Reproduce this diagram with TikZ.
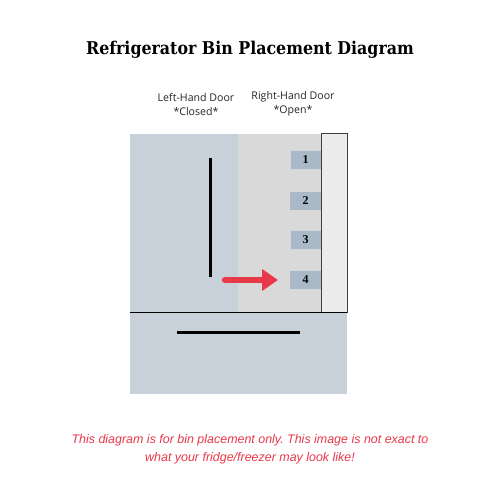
\documentclass[tikz,border=0pt]{standalone}
\usepackage{fontspec}
\setmainfont{Open Sans}
\newfontfamily\titlefont{DejaVu Serif Condensed}
\newfontfamily\binfont{Liberation Serif}
\newfontfamily\notefont{Liberation Sans}
\definecolor{doorblue}{HTML}{C8D0D9}
\definecolor{opengray}{HTML}{D9D9D9}
\definecolor{edgegray}{HTML}{ECECEC}
\definecolor{binblue}{HTML}{A9B9C7}
\definecolor{warnred}{HTML}{E8394A}
\usetikzlibrary{arrows.meta}
\frenchspacing
\begin{document}
\begin{tikzpicture}[x=1pt,y=-1pt,
  binbox/.style={fill=binblue,draw=none,minimum width=30pt,minimum height=18pt,inner sep=0pt,font=\binfont\bfseries\fontsize{12}{12}\selectfont},
  doorlabel/.style={align=center,font=\fontsize{10.6}{14}\selectfont,text=black!85},
  handle/.style={line width=3pt}]
\useasboundingbox (0,0) rectangle (500,500);
\fill[white] (0,0) rectangle (500,500);
% title
\node[font=\titlefont\bfseries\fontsize{17.6}{20}\selectfont] (title) at (250,50) {Refrigerator Bin Placement Diagram};
% door labels
\node[doorlabel] (leftlabel) at (196,104) {Left-Hand Door\\*Closed*};
\node[doorlabel] (rightlabel) at (293,104) {Right-Hand Door\\*Open*};
% fridge body
\node[fill=doorblue,draw=none,minimum width=108pt,minimum height=178pt,inner sep=0pt,anchor=north west] (leftdoor) at (130,134) {};
\node[fill=opengray,draw=none,minimum width=83pt,minimum height=178pt,inner sep=0pt,anchor=north west] (opendoor) at (238,134) {};
\node[fill=edgegray,draw=black!75,line width=1pt,minimum width=26pt,minimum height=179pt,inner sep=0pt,anchor=north west] (dooredge) at (321,133) {};
\node[fill=doorblue,draw=none,minimum width=217pt,minimum height=82pt,inner sep=0pt,anchor=north west] (freezer) at (130,312) {};
\draw[line width=0.9pt] (freezer.north west) -- (freezer.north east);
% handles
\coordinate (lh1) at (210.5,158);
\coordinate (lh2) at (210.5,277);
\draw[handle] (lh1) -- (lh2);
\coordinate (fh1) at (177,332);
\coordinate (fh2) at (300,332);
\draw[handle] (fh1) -- (fh2);
% bins
\node[binbox] (bin1) at (305.5,159.5) {1};
\node[binbox,minimum width=31pt] (bin2) at (305.5,201) {2};
\node[binbox] (bin3) at (305.5,240) {3};
\node[binbox,minimum width=31pt] (bin4) at (305.5,280) {4};
% arrow
\coordinate (arrstart) at (225,280);
\draw[warnred,line width=6.5pt,line cap=round,-{Triangle[length=16pt,width=21pt]}] (arrstart) -- (bin4.west -| 278,0);
% note
\node[text=warnred,font=\notefont\itshape\fontsize{12.45}{18}\selectfont,align=center] (note) at (250,449) {This diagram is for bin placement only. This image is not exact to\\what your fridge/freezer may look like!};
\end{tikzpicture}
\end{document}
